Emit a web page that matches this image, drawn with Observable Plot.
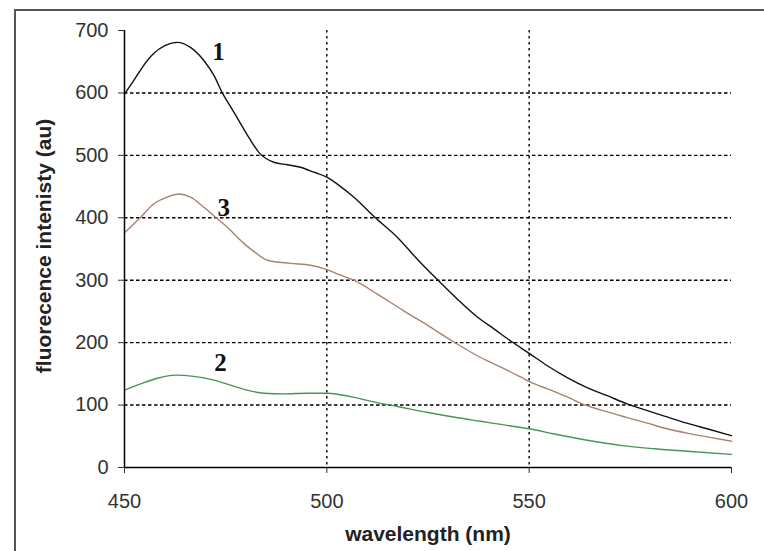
<!DOCTYPE html>
<html>
<head>
<meta charset="utf-8">
<script src="https://cdn.jsdelivr.net/npm/d3@7"></script>
<script src="https://cdn.jsdelivr.net/npm/@observablehq/plot@0.6"></script>
<style>
  html, body { margin: 0; padding: 0; background: #fff; }
  #wrap { position: relative; width: 764px; height: 551px; overflow: hidden; }
  #frame { position: absolute; left: 14px; top: 9px; width: 800px; height: 600px;
           border-left: 2px solid #555; border-top: 2px solid #555; pointer-events: none; }
  #chart { position: absolute; left: 0; top: 0; }
</style>
</head>
<body>
<div id="wrap"><div id="chart"></div><div id="frame"></div></div>
<script>
// Series 1 (black)
const wl1 = [450, 452.3, 454.4, 457.2, 460.1, 463, 466.3, 469.6, 472.1, 474.1, 476.2, 478.5, 480.8, 483.3, 486.9, 490.2, 493.5, 496.8, 500, 503, 506.7, 512, 517.4, 522.3, 527.3, 532.2, 537.2, 541.3, 545.8, 550.2, 554.5, 559.4, 564.3, 569.3, 574.2, 579.2, 584.1, 589, 594, 600];
const val1 = [598, 620, 641, 663, 676, 681, 673, 652, 628, 601, 578, 553, 528, 504, 489, 485, 481, 473, 465, 452, 433, 400, 369, 334, 301, 270, 241, 222, 201, 182, 163, 144, 128, 115, 102, 91, 81, 71, 62, 51];
// Series 3 (brown)
const wl3 = [450, 454, 457.2, 460.5, 463.4, 466.3, 469.6, 472.5, 476.2, 478.2, 480.2, 482.2, 485.3, 491, 496, 500, 503.4, 506.7, 512.4, 519, 525.6, 531.4, 537.2, 542.9, 547.9, 550.2, 554.5, 559.4, 564.3, 569.3, 574.2, 579.2, 584.1, 589, 594, 600];
const val3 = [376, 401, 422, 433, 438, 433, 417, 401, 380, 367, 355, 345, 332, 327, 324, 317, 308, 300, 278, 251, 225, 201, 179, 161, 145, 137, 126, 113, 99, 89, 80, 71, 62, 55, 49, 42];
// Series 2 (green)
const wl2 = [450, 454, 458.1, 462.6, 467.1, 472.1, 476.2, 480.3, 484.4, 489.4, 495.1, 500, 503, 507, 511, 518, 525, 532, 538, 543, 548, 550, 556, 564, 573, 581, 589, 600];
const val2 = [124, 134, 143, 148, 146, 140, 132, 124, 119, 118, 119, 119, 117, 112, 106, 97, 88, 80, 74, 69, 64, 62, 54, 44, 35, 30, 26, 21];

const xTicks = [450, 500, 550, 600];
const yTicks = [0, 100, 200, 300, 400, 500, 600, 700];
const xGrid = [500, 550];
const yGrid = [100, 200, 300, 400, 500, 600];

const curveLabels = ["1", "3", "2"];
const curveLabelX = [473.2, 474.5, 473.7];
const curveLabelY = [665, 416, 167];

const xTitle = "wavelength (nm)";
const yTitle = "fluorecence intenisty (au)";

const series = [
  {name: "1", wl: wl1, val: val1, color: "#111111"},
  {name: "3", wl: wl3, val: val3, color: "#a9826f"},
  {name: "2", wl: wl2, val: val2, color: "#45955a"}
];
const rows = series.flatMap(s => s.wl.map((w, i) => ({series: s.name, wl: w, val: s.val[i]})));
const colorOf = Object.fromEntries(series.map(s => [s.name, s.color]));
const labelRows = curveLabels.map((t, i) => ({t, x: curveLabelX[i], y: curveLabelY[i]}));

const chart = Plot.plot({
  width: 764,
  height: 551,
  marginLeft: 124,
  marginRight: 33,
  marginTop: 30,
  marginBottom: 84,
  style: {fontFamily: "'Liberation Sans', Arial, sans-serif", fontSize: "20px", color: "#333", background: "transparent"},
  x: {domain: [450, 600], ticks: xTicks, tickSize: 6, tickPadding: 20, tickFormat: d => String(d), label: null},
  y: {domain: [0, 700], ticks: yTicks, tickSize: 6, tickPadding: 10, tickFormat: d => String(d), label: null},
  marks: [
    Plot.ruleY(yGrid, {stroke: "#000", strokeWidth: 1.4, strokeDasharray: "3.5,2.5"}),
    Plot.ruleX(xGrid, {stroke: "#000", strokeWidth: 1.4, strokeDasharray: "2.5,3.5"}),
    Plot.line(rows, {x: "wl", y: "val", z: "series", stroke: d => colorOf[d.series], strokeWidth: 1.4, curve: "monotone-x"}),
    Plot.ruleX([450], {stroke: "#000", strokeWidth: 1.5}),
    Plot.ruleY([0], {stroke: "#000", strokeWidth: 1.5}),
    Plot.text(labelRows, {x: "x", y: "y", text: "t", fontFamily: "'Liberation Serif', 'Times New Roman', serif", fontWeight: "bold", fontSize: 25, fill: "#111"}),
    Plot.text([xTitle], {text: d => d, frameAnchor: "bottom", textAnchor: "middle", dy: 73, fontWeight: "bold", fontSize: 21, fill: "#222"}),
    Plot.text([yTitle], {text: d => d, frameAnchor: "left", textAnchor: "middle", dx: -80, dy: -3, rotate: -90, fontWeight: "bold", fontSize: 21, fill: "#222"})
  ]
});
document.getElementById("chart").appendChild(chart);
</script>
</body>
</html>
